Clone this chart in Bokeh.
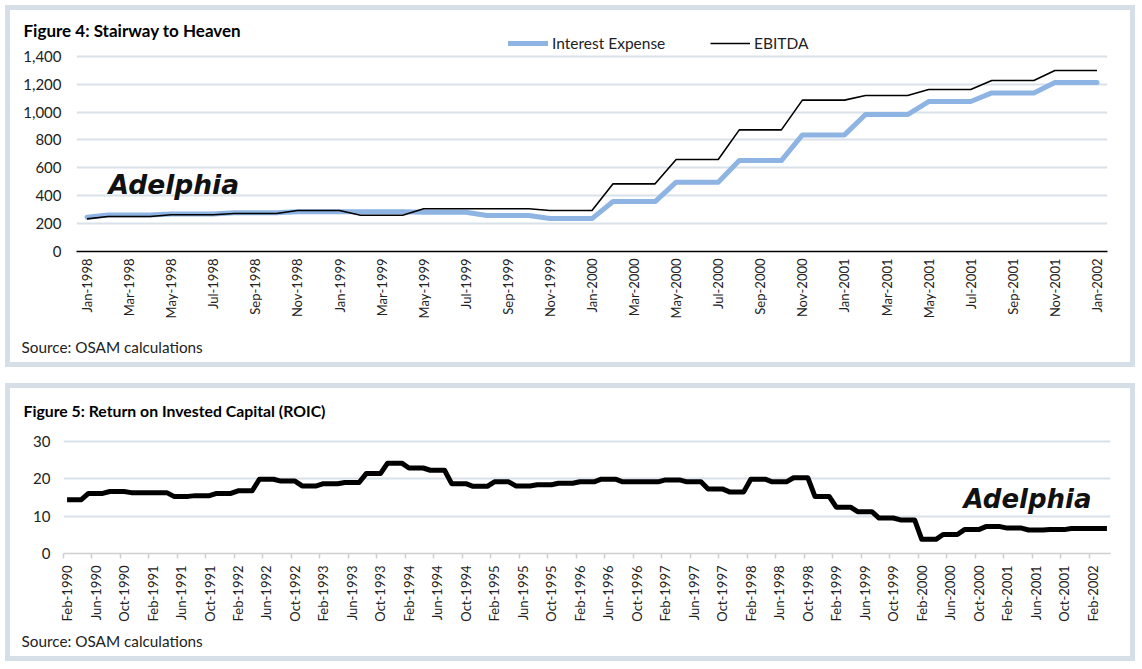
import math
from bokeh.plotting import figure
from bokeh.models import (Label, Legend, LegendItem, FixedTicker,
                          NumeralTickFormatter, Range1d, Title)
from bokeh.embed import file_html
from bokeh.resources import INLINE

# ---------------- Figure 4 data (monthly, Jan-1998 .. Jan-2002) ----------------
top_tick_labels = [
    "Jan-1998", "Mar-1998", "May-1998", "Jul-1998", "Sep-1998", "Nov-1998",
    "Jan-1999", "Mar-1999", "May-1999", "Jul-1999", "Sep-1999", "Nov-1999",
    "Jan-2000", "Mar-2000", "May-2000", "Jul-2000", "Sep-2000", "Nov-2000",
    "Jan-2001", "Mar-2001", "May-2001", "Jul-2001", "Sep-2001", "Nov-2001",
    "Jan-2002",
]
interest_expense = [
    246,
    262, 262, 262, 268, 268, 268, 278, 278, 278, 285, 285, 285,
    285, 285, 285, 282, 282, 282, 258, 258, 258, 236, 236, 236,
    358, 358, 358, 497, 497, 497, 652, 652, 652, 836, 836, 836,
    982, 982, 982, 1075, 1075, 1075, 1137, 1137, 1137, 1211, 1211, 1211,
]
ebitda = [
    234,
    251, 251, 251, 263, 263, 263, 272, 272, 272, 294, 294, 294,
    260, 260, 260, 306, 306, 306, 306, 306, 306, 294, 294, 294,
    485, 485, 485, 660, 660, 660, 872, 872, 872, 1085, 1085, 1085,
    1118, 1118, 1118, 1161, 1161, 1161, 1226, 1226, 1226, 1297, 1297, 1297,
]
top_y_ticks = [0, 200, 400, 600, 800, 1000, 1200, 1400]

# ---------------- Figure 5 data (monthly, Feb-1990 .. Apr-2002) ----------------
roic_tick_labels = [
    "Feb-1990", "Jun-1990", "Oct-1990", "Feb-1991", "Jun-1991", "Oct-1991",
    "Feb-1992", "Jun-1992", "Oct-1992", "Feb-1993", "Jun-1993", "Oct-1993",
    "Feb-1994", "Jun-1994", "Oct-1994", "Feb-1995", "Jun-1995", "Oct-1995",
    "Feb-1996", "Jun-1996", "Oct-1996", "Feb-1997", "Jun-1997", "Oct-1997",
    "Feb-1998", "Jun-1998", "Oct-1998", "Feb-1999", "Jun-1999", "Oct-1999",
    "Feb-2000", "Jun-2000", "Oct-2000", "Feb-2001", "Jun-2001", "Oct-2001",
    "Feb-2002",
]
roic = [
    14.4, 14.4, 14.4, 16.1, 16.1, 16.1, 16.6, 16.6, 16.6, 16.3, 16.3, 16.3,
    16.3, 16.3, 16.3, 15.3, 15.3, 15.3, 15.5, 15.5, 15.5, 16.1, 16.1, 16.1,
    16.8, 16.8, 16.8, 19.9, 19.9, 19.9, 19.4, 19.4, 19.4, 18.1, 18.1, 18.1,
    18.7, 18.7, 18.7, 19.0, 19.0, 19.0, 21.4, 21.4, 21.4, 24.2, 24.2, 24.2,
    22.9, 22.9, 22.9, 22.3, 22.3, 22.3, 18.7, 18.7, 18.7, 18.0, 18.0, 18.0,
    19.2, 19.2, 19.2, 18.1, 18.1, 18.1, 18.4, 18.4, 18.4, 18.8, 18.8, 18.8,
    19.2, 19.2, 19.2, 19.9, 19.9, 19.9, 19.2, 19.2, 19.2, 19.2, 19.2, 19.2,
    19.7, 19.7, 19.7, 19.2, 19.2, 19.2, 17.3, 17.3, 17.3, 16.5, 16.5, 16.5,
    19.9, 19.9, 19.9, 19.2, 19.2, 19.2, 20.3, 20.3, 20.3, 15.3, 15.3, 15.3,
    12.4, 12.4, 12.4, 11.2, 11.2, 11.2, 9.5, 9.5, 9.5, 9.0, 9.0, 9.0,
    3.8, 3.8, 3.8, 5.1, 5.1, 5.1, 6.4, 6.4, 6.4, 7.2, 7.2, 7.2,
    6.8, 6.8, 6.8, 6.3, 6.3, 6.3, 6.4, 6.4, 6.4, 6.7, 6.7, 6.7,
    6.7, 6.7, 6.7,
]
roic_y_ticks = [0, 10, 20, 30]

# ---------------- styling ----------------
FONT = "Lato"
BORDER = "#D6DFE8"
GRID = "#D9E1E9"
TXT = "#222222"
BLUE = "#8DB4E2"
LOGO_FONT = "DejaVu Sans"


def base_fig(w, h, left, right, top, bottom, y_end, margin_top):
    p = figure(width=w, height=h, output_backend="svg", toolbar_location=None,
               min_border_left=left, min_border_right=right,
               min_border_top=top, min_border_bottom=bottom,
               y_range=Range1d(0, y_end),
               styles={"outline": f"5px solid {BORDER}",
                       "margin-left": "10px", "margin-top": f"{margin_top}px"})
    p.outline_line_color = None
    p.background_fill_color = "white"
    p.border_fill_color = "white"
    p.xgrid.visible = False
    p.ygrid.grid_line_color = GRID
    p.ygrid.grid_line_width = 2
    p.yaxis.axis_line_color = None
    p.yaxis.major_tick_line_color = None
    p.yaxis.minor_tick_line_color = None
    p.yaxis.major_tick_out = 0
    p.yaxis.minor_tick_out = 0
    p.yaxis.major_label_text_font = FONT
    p.yaxis.major_label_text_font_size = "15px"
    p.yaxis.major_label_text_color = TXT
    p.xaxis.major_label_text_font = FONT
    p.xaxis.major_label_text_font_size = "13px"
    p.xaxis.major_label_text_color = TXT
    p.xaxis.major_label_orientation = math.pi / 2
    p.xaxis.major_tick_out = 0
    p.xaxis.major_tick_in = 0
    p.xaxis.minor_tick_in = 0
    return p


def add_titles(p, title, tsize, title_offset, title_standoff, src_offset, src_standoff):
    p.title = Title(text=title, align="left", offset=title_offset,
                    standoff=title_standoff, vertical_align="bottom",
                    text_font=FONT, text_font_size=tsize,
                    text_font_style="bold", text_color="black")
    p.add_layout(Title(text="\nSource: OSAM calculations", align="left",
                       offset=src_offset, standoff=src_standoff,
                       vertical_align="bottom", text_font=FONT,
                       text_font_size="15.3px", text_font_style="normal",
                       text_color=TXT), "below")


def logo(p, x, y, size):
    p.add_layout(Label(x=x, y=y, x_units="screen", y_units="screen",
                       text="Adelphia", text_font=LOGO_FONT,
                       text_font_size=size, text_font_style="bold italic",
                       text_color="#111111", text_baseline="alphabetic"))


# ---------------- Figure 4 ----------------
n1 = len(interest_expense)
x1 = list(range(n1))
H1, T1, B1 = 352, 20, 111
f1 = H1 - T1 - B1
p1 = base_fig(1120, H1, 66, 23, T1, B1, 1400 * f1 / (f1 - (45.7 - T1)), 10)
p1.x_range = Range1d(-0.5, n1 - 0.5)
p1.yaxis.ticker = FixedTicker(ticks=top_y_ticks)
p1.ygrid.ticker = FixedTicker(ticks=top_y_ticks)
p1.yaxis.formatter = NumeralTickFormatter(format="0,0")
p1.yaxis.major_label_standoff = 15
tick_pos1 = [2 * i for i in range(len(top_tick_labels))]
p1.xaxis.ticker = FixedTicker(ticks=tick_pos1)
p1.xaxis.major_label_overrides = {t: l for t, l in zip(tick_pos1, top_tick_labels)}
p1.xaxis.minor_tick_out = 0
p1.xaxis.axis_line_color = "black"
p1.xaxis.axis_line_width = 1.3
p1.xaxis.major_label_standoff = 7

r_int = p1.line(x1, interest_expense, line_color=BLUE, line_width=5,
                line_join="round", line_cap="round")
r_ebi = p1.line(x1, ebitda, line_color="black", line_width=1.6,
                line_join="round")

for item, xloc in ((LegendItem(label="Interest Expense", renderers=[r_int]), 432),
                   (LegendItem(label="EBITDA", renderers=[r_ebi]), 634)):
    lg = Legend(items=[item], location=(xloc, 198), orientation="horizontal",
                glyph_width=40, glyph_height=20, label_height=20,
                label_standoff=4, padding=0, margin=0, spacing=0,
                border_line_color=None, background_fill_alpha=0,
                label_text_font=FONT, label_text_font_size="15.5px",
                label_text_color=TXT)
    p1.add_layout(lg)

add_titles(p1, "Figure 4: Stairway to Heaven", "17px", -53, -21, -55, -8)
logo(p1, 32, 67, "26.5px")

# ---------------- Figure 5 ----------------
n2 = len(roic)
x2 = list(range(n2))
H2, T2, B2 = 268, 40, 103
f2 = H2 - T2 - B2
p2 = base_fig(1120, H2, 53, 20, T2, B2, 30 * f2 / (f2 - (53 - T2)), 26)
p2.x_range = Range1d(-0.5, n2 - 0.5)
p2.yaxis.ticker = FixedTicker(ticks=roic_y_ticks)
p2.ygrid.ticker = FixedTicker(ticks=roic_y_ticks)
p2.yaxis.major_label_standoff = 13
tick_pos2 = [4 * i for i in range(len(roic_tick_labels))]
p2.xaxis.ticker = FixedTicker(ticks=tick_pos2,
                              minor_ticks=[t - 0.5 for t in tick_pos2])
p2.xaxis.major_label_overrides = {t: l for t, l in zip(tick_pos2, roic_tick_labels)}
p2.xaxis.minor_tick_out = 5
p2.xaxis.minor_tick_line_color = "#D0D0D0"
p2.xaxis.minor_tick_line_width = 1.5
p2.xaxis.axis_line_color = "#D0D0D0"
p2.xaxis.axis_line_width = 1.5
p2.xaxis.major_label_standoff = 7

p2.line(x2, roic, line_color="black", line_width=5, line_join="round")

add_titles(p2, "Figure 5: Return on Invested Capital (ROIC)", "15.8px", -40, 18, -42, -26)
logo(p2, 900, 55, "26px")

open("out.html", "w").write(file_html([p1, p2], INLINE))
